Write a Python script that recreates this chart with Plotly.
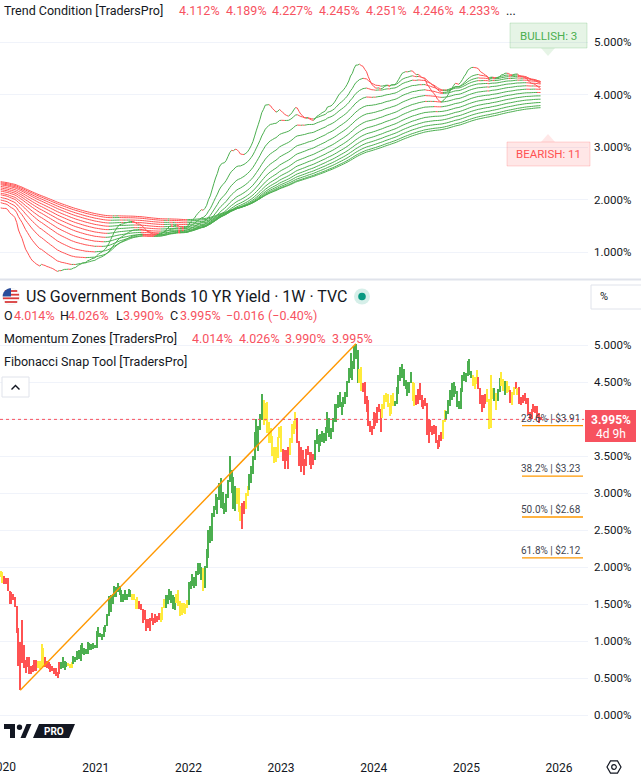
import math
import pandas as pd
import plotly.graph_objects as go

# ---------------- DATA ----------------
# Weekly bars of US 10Y yield, weeks starting Monday 2019-12-23
close_2019 = [1.88, 1.80]
high_2019 = [1.94, 1.93]
low_2019 = [1.87, 1.78]

close_2020 = [1.82, 1.83, 1.69, 1.51, 1.58, 1.59, 1.47, 1.15, 0.77, 0.96, 0.92, 0.68, 0.60,
              0.73, 0.65, 0.60, 0.64, 0.68, 0.64, 0.66, 0.65, 0.90, 0.70, 0.70, 0.64, 0.67,
              0.64, 0.63, 0.59, 0.54, 0.56, 0.71, 0.64, 0.72, 0.72, 0.67, 0.69, 0.66, 0.70,
              0.78, 0.74, 0.84, 0.87, 0.82, 0.89, 0.83, 0.84, 0.97, 0.90, 0.95, 0.94, 0.92]
high_2020 = [1.88, 1.85, 1.85, 1.68, 1.66, 1.64, 1.60, 1.47, 1.17, 0.99, 1.28, 0.94, 0.74,
             0.79, 0.78, 0.66, 0.68, 0.74, 0.74, 0.73, 0.73, 0.96, 0.91, 0.78, 0.73, 0.72,
             0.69, 0.66, 0.63, 0.63, 0.58, 0.72, 0.71, 0.79, 0.73, 0.72, 0.70, 0.69, 0.72,
             0.80, 0.79, 0.87, 0.88, 0.94, 0.97, 0.90, 0.89, 0.98, 0.97, 0.96, 0.97, 0.95]
low_2020 = [1.77, 1.77, 1.67, 1.50, 1.50, 1.55, 1.46, 1.11, 0.66, 0.336, 0.70, 0.64, 0.57,
            0.65, 0.56, 0.55, 0.58, 0.60, 0.60, 0.63, 0.62, 0.65, 0.65, 0.65, 0.63, 0.62,
            0.58, 0.59, 0.56, 0.53, 0.50, 0.55, 0.62, 0.63, 0.61, 0.65, 0.66, 0.63, 0.63,
            0.69, 0.71, 0.75, 0.76, 0.73, 0.82, 0.81, 0.82, 0.83, 0.88, 0.88, 0.89, 0.90]

close_2021 = [1.12, 1.09, 1.09, 1.07, 1.17, 1.20, 1.34, 1.41, 1.57, 1.63, 1.72, 1.67, 1.72,
              1.66, 1.58, 1.56, 1.63, 1.58, 1.63, 1.62, 1.59, 1.56, 1.45, 1.44, 1.52, 1.43,
              1.36, 1.30, 1.28, 1.22, 1.30, 1.28, 1.26, 1.31, 1.33, 1.34, 1.37, 1.46, 1.47,
              1.61, 1.57, 1.65, 1.56, 1.45, 1.57, 1.54, 1.48, 1.34, 1.48, 1.40, 1.49, 1.51]
high_2021 = [1.13, 1.19, 1.11, 1.10, 1.19, 1.21, 1.36, 1.61, 1.62, 1.64, 1.75, 1.73, 1.78,
             1.74, 1.69, 1.63, 1.69, 1.63, 1.70, 1.69, 1.63, 1.64, 1.57, 1.59, 1.54, 1.50,
             1.43, 1.42, 1.30, 1.30, 1.31, 1.38, 1.31, 1.37, 1.34, 1.38, 1.38, 1.46, 1.57,
             1.62, 1.62, 1.70, 1.68, 1.62, 1.60, 1.64, 1.69, 1.54, 1.52, 1.51, 1.50, 1.56]
low_2021 = [0.90, 1.06, 1.05, 1.01, 1.06, 1.12, 1.20, 1.34, 1.39, 1.50, 1.60, 1.60, 1.66,
            1.62, 1.53, 1.53, 1.55, 1.55, 1.59, 1.60, 1.55, 1.55, 1.43, 1.43, 1.43, 1.42,
            1.25, 1.28, 1.13, 1.17, 1.13, 1.27, 1.21, 1.25, 1.26, 1.28, 1.26, 1.29, 1.45,
            1.45, 1.50, 1.56, 1.52, 1.43, 1.42, 1.52, 1.47, 1.34, 1.35, 1.38, 1.37, 1.45]

close_2022 = [1.77, 1.79, 1.76, 1.78, 1.92, 1.93, 1.93, 1.97, 1.74, 2.00, 2.15, 2.48, 2.39,
              2.70, 2.83, 2.90, 2.89, 3.13, 2.93, 2.79, 2.74, 2.94, 3.16, 3.23, 3.13, 2.89,
              3.08, 2.93, 2.75, 2.65, 2.83, 2.84, 2.98, 3.04, 3.19, 3.31, 3.45, 3.69, 3.83,
              3.88, 4.01, 4.21, 4.01, 4.16, 3.82, 3.83, 3.68, 3.50, 3.58, 3.48, 3.75, 3.87]
high_2022 = [1.80, 1.81, 1.90, 1.87, 1.94, 2.06, 2.05, 2.00, 1.99, 2.01, 2.24, 2.50, 2.55,
             2.73, 2.83, 2.98, 2.94, 3.13, 3.20, 3.02, 2.87, 2.98, 3.18, 3.50, 3.31, 3.21,
             3.10, 3.07, 3.07, 2.83, 2.86, 2.89, 3.00, 3.10, 3.26, 3.36, 3.50, 3.83, 4.00,
             3.90, 4.07, 4.34, 4.26, 4.22, 4.23, 3.96, 3.88, 3.77, 3.62, 3.62, 3.76, 3.89]
low_2022 = [1.48, 1.70, 1.74, 1.72, 1.75, 1.89, 1.91, 1.82, 1.68, 1.71, 1.99, 2.12, 2.33,
            2.35, 2.67, 2.77, 2.72, 2.90, 2.80, 2.78, 2.71, 2.74, 2.93, 3.15, 3.00, 2.79,
            2.76, 2.85, 2.75, 2.62, 2.52, 2.72, 2.78, 2.96, 3.04, 3.14, 3.26, 3.44, 3.63,
            3.57, 3.85, 3.98, 3.92, 3.97, 3.81, 3.67, 3.67, 3.50, 3.40, 3.42, 3.47, 3.74]

close_2023 = [3.56, 3.50, 3.48, 3.51, 3.53, 3.73, 3.82, 3.95, 3.96, 3.70, 3.39, 3.38, 3.47,
              3.39, 3.52, 3.57, 3.44, 3.44, 3.46, 3.67, 3.80, 3.69, 3.74, 3.77, 3.74, 3.81,
              4.06, 3.82, 3.83, 3.95, 4.04, 4.16, 4.25, 4.24, 4.18, 4.26, 4.33, 4.44, 4.57,
              4.78, 4.63, 4.92, 4.84, 4.57, 4.65, 4.44, 4.47, 4.22, 4.23, 3.91, 3.90, 3.87]
high_2023 = [3.91, 3.60, 3.58, 3.58, 3.62, 3.75, 3.93, 3.97, 4.09, 4.02, 3.70, 3.62, 3.58,
             3.46, 3.60, 3.64, 3.55, 3.56, 3.53, 3.72, 3.86, 3.79, 3.80, 3.84, 3.81, 3.89,
             4.09, 4.02, 3.88, 4.02, 4.20, 4.20, 4.33, 4.37, 4.23, 4.30, 4.36, 4.51, 4.69,
             4.89, 4.78, 4.99, 5.016, 4.93, 4.68, 4.70, 4.48, 4.50, 4.31, 4.26, 3.97, 3.91]
low_2023 = [3.55, 3.43, 3.32, 3.43, 3.33, 3.52, 3.68, 3.80, 3.87, 3.67, 3.37, 3.29, 3.37,
            3.25, 3.37, 3.52, 3.38, 3.33, 3.38, 3.45, 3.66, 3.56, 3.64, 3.69, 3.67, 3.70,
            3.81, 3.76, 3.73, 3.83, 3.96, 3.96, 4.15, 4.16, 4.05, 4.16, 4.20, 4.30, 4.49,
            4.56, 4.53, 4.67, 4.81, 4.49, 4.49, 4.38, 4.37, 4.20, 4.10, 3.91, 3.83, 3.78]

close_2024 = [4.05, 3.94, 4.12, 4.14, 4.02, 4.18, 4.28, 4.25, 4.18, 4.08, 4.31, 4.21, 4.20,
              4.40, 4.52, 4.62, 4.67, 4.50, 4.50, 4.42, 4.47, 4.50, 4.43, 4.22, 4.26, 4.40,
              4.27, 4.18, 4.24, 4.19, 3.79, 3.94, 3.89, 3.80, 3.90, 3.71, 3.65, 3.75, 3.75,
              3.97, 4.10, 4.08, 4.24, 4.37, 4.31, 4.43, 4.41, 4.17, 4.15, 4.40, 4.52, 4.62, 4.60]
high_2024 = [4.10, 4.08, 4.16, 4.20, 4.14, 4.20, 4.33, 4.35, 4.34, 4.21, 4.33, 4.35, 4.25,
             4.43, 4.59, 4.70, 4.74, 4.68, 4.53, 4.50, 4.50, 4.63, 4.50, 4.48, 4.32, 4.40,
             4.49, 4.33, 4.26, 4.29, 4.21, 4.00, 3.99, 3.91, 3.92, 3.91, 3.72, 3.79, 3.82,
             3.99, 4.12, 4.11, 4.26, 4.39, 4.48, 4.50, 4.45, 4.38, 4.25, 4.42, 4.59, 4.64, 4.62]
low_2024 = [3.87, 3.90, 3.95, 4.09, 3.82, 4.02, 4.13, 4.23, 4.16, 4.04, 4.07, 4.18, 4.17,
            4.20, 4.34, 4.52, 4.55, 4.45, 4.41, 4.31, 4.35, 4.48, 4.25, 4.18, 4.19, 4.20,
            4.26, 4.16, 4.13, 4.17, 3.79, 3.67, 3.82, 3.78, 3.80, 3.68, 3.60, 3.62, 3.70,
            3.73, 3.96, 3.99, 4.07, 4.18, 4.26, 4.30, 4.34, 4.16, 4.13, 4.13, 4.37, 4.52, 4.50]

close_2025 = [4.77, 4.61, 4.62, 4.54, 4.49, 4.48, 4.42, 4.21, 4.31, 4.30, 4.25, 4.25, 4.00,
              4.49, 4.33, 4.25, 4.31, 4.38, 4.44, 4.51, 4.41, 4.51, 4.41, 4.38, 4.28, 4.35,
              4.42, 4.42, 4.39, 4.22, 4.28, 4.32, 4.26, 4.23, 4.08, 4.06, 4.13, 4.18, 4.12,
              4.05, 4.01, 3.995]
high_2025 = [4.79, 4.81, 4.65, 4.60, 4.57, 4.66, 4.57, 4.42, 4.33, 4.33, 4.34, 4.40, 4.27,
             4.59, 4.42, 4.42, 4.35, 4.41, 4.55, 4.63, 4.54, 4.52, 4.51, 4.45, 4.39, 4.36,
             4.43, 4.50, 4.42, 4.43, 4.30, 4.33, 4.35, 4.28, 4.29, 4.10, 4.14, 4.20, 4.18,
             4.17, 4.08, 4.026]
low_2025 = [4.58, 4.60, 4.56, 4.45, 4.40, 4.47, 4.40, 4.20, 4.10, 4.15, 4.20, 4.23, 3.86,
            3.88, 4.27, 4.24, 4.12, 4.25, 4.36, 4.44, 4.38, 4.33, 4.35, 4.36, 4.22, 4.19,
            4.32, 4.40, 4.32, 4.20, 4.19, 4.22, 4.24, 4.20, 4.06, 4.00, 4.00, 4.10, 4.08,
            4.02, 3.95, 3.990]

# Momentum zone colour of each bar, as runs (G = green, Y = yellow, R = red)
zone_runs = [("Y", 2),
             ("R", 19), ("Y", 4), ("R", 9), ("G", 4), ("Y", 3), ("G", 13),
             ("G", 20), ("Y", 4), ("R", 12), ("Y", 3), ("G", 6), ("Y", 7),
             ("G", 8), ("Y", 1), ("G", 18), ("Y", 3), ("R", 2), ("Y", 2), ("G", 8), ("Y", 10),
             ("Y", 1), ("R", 4), ("Y", 4), ("R", 10), ("G", 25), ("Y", 2), ("R", 6),
             ("R", 5), ("Y", 7), ("G", 10), ("Y", 2), ("R", 15), ("Y", 2), ("G", 12),
             ("G", 3), ("Y", 3), ("R", 5), ("Y", 4), ("G", 1), ("Y", 1), ("G", 2), ("Y", 2),
             ("G", 1), ("Y", 2), ("R", 1), ("Y", 2), ("R", 1), ("Y", 1), ("R", 13)]

# Trend Condition ribbon: EMA lengths and their values at the first bar
ribbon_periods = [10, 25, 40, 55, 70, 85, 100, 115, 130, 145, 160, 175, 190, 200]
ribbon_start = [1.84, 1.94, 1.99, 2.04, 2.09, 2.12, 2.16, 2.19, 2.22, 2.25, 2.28, 2.30, 2.32, 2.34]
trend_values = [4.112, 4.189, 4.227, 4.245, 4.251, 4.246, 4.233]
bullish_count, bearish_count = 3, 11

# Fibonacci snap tool anchors
fib_low_date, fib_low = "2020-03-09", 0.336
fib_high_date, fib_high = "2023-10-23", 5.016
fib_ratios = [0.236, 0.382, 0.5, 0.618]

# Last bar OHLC
last_open, last_high, last_low, last_close = 4.014, 4.026, 3.990, 3.995
last_change, last_change_pct = -0.016, -0.40

year_ticks = [2020, 2021, 2022, 2023, 2024, 2025, 2026]
top_ticks = [1, 2, 3, 4, 5]
bottom_ticks = [0, 0.5, 1, 1.5, 2, 2.5, 3, 3.5, 4, 4.5, 5]

# ---------------- assemble ----------------
close = close_2019 + close_2020 + close_2021 + close_2022 + close_2023 + close_2024 + close_2025
high = high_2019 + high_2020 + high_2021 + high_2022 + high_2023 + high_2024 + high_2025
low = low_2019 + low_2020 + low_2021 + low_2022 + low_2023 + low_2024 + low_2025
N = len(close)
zones = "".join(z * n for z, n in zone_runs)
zones = (zones + zones[-1] * N)[:N]
dates = list(pd.date_range("2019-12-23", periods=N, freq="7D").to_pydatetime())

FONT = "Roboto, sans-serif"
DARK = "#131722"
RED_T = "#f7525f"
GREEN = "#4caf50"
RED = "#ff5252"
YELLOW = "#ffeb3b"
ORANGE = "#ff9800"

W, H = 641, 777
LM, RM, TM, BM = 0, 53, 0, 25
PW, PH = W - LM - RM, H - TM - BM


def fx(px):
    return (px - LM) / PW


def fy(py):
    return 1 - (py - TM) / PH


fig = go.Figure()

# ---- bottom pane: bars ----
cmap = {"G": GREEN, "Y": YELLOW, "R": RED}
fig.add_trace(go.Bar(
    x=dates, base=low, y=[h - l for h, l in zip(high, low)],
    marker=dict(color=[cmap[z] for z in zones], line=dict(width=0)),
    width=4.2 * 86400000, xaxis="x", yaxis="y", hoverinfo="skip"))

# fib diagonal
fig.add_trace(go.Scatter(x=[fib_low_date, fib_high_date], y=[fib_low, fib_high],
                         mode="lines", line=dict(color=ORANGE, width=1.4),
                         xaxis="x", yaxis="y", hoverinfo="skip"))

# ---- top pane: EMA ribbon ----
gx, gy, rx, ry = [], [], [], []
for k, p in enumerate(ribbon_periods):
    a = 2.0 / (p + 1)
    e = [ribbon_start[k]]
    for c in close[1:]:
        e.append(e[-1] + a * (c - e[-1]))
    for i in range(N - 1):
        if e[i + 1] >= e[i]:
            gx += [dates[i], dates[i + 1], None]
            gy += [e[i], e[i + 1], None]
        else:
            rx += [dates[i], dates[i + 1], None]
            ry += [e[i], e[i + 1], None]
fig.add_trace(go.Scatter(x=gx, y=gy, mode="lines", line=dict(color=GREEN, width=1),
                         xaxis="x2", yaxis="y2", hoverinfo="skip"))
fig.add_trace(go.Scatter(x=rx, y=ry, mode="lines", line=dict(color=RED, width=1),
                         xaxis="x2", yaxis="y2", hoverinfo="skip"))

xr = ["2019-12-20 05:00", "2026-04-25"]
axis_font = dict(size=11.5, color=DARK, family=FONT)
fig.update_layout(
    width=W, height=H, margin=dict(l=LM, r=RM, t=TM, b=BM, autoexpand=False),
    paper_bgcolor="white", plot_bgcolor="white", showlegend=False, bargap=0,
    xaxis=dict(domain=[0, 1], anchor="y", type="date", range=xr,
               tickvals=[f"{y}-01-01" for y in year_ticks[1:]],
               ticktext=[str(y) for y in year_ticks[1:]],
               showgrid=False, zeroline=False, showline=False, ticks="",
               tickfont=dict(size=12, color=DARK, family=FONT), ticklabelstandoff=7),
    xaxis2=dict(domain=[0, 1], anchor="y2", type="date", range=xr, matches="x",
                showticklabels=False, showgrid=False, zeroline=False, showline=False, ticks=""),
    yaxis=dict(domain=[0, fy(281)], range=[-0.5, 5.865], side="right",
               tickvals=bottom_ticks,
               ticktext=["" if v == 4 else f"{v:.3f}%" for v in bottom_ticks],
               gridcolor="#f0f3fa", zeroline=False, showline=False, ticks="",
               tickfont=axis_font, ticklabelstandoff=5),
    yaxis2=dict(domain=[fy(278), 1], range=[0.5048, 5.8], side="right",
                tickvals=top_ticks, ticktext=[f"{v:.3f}%" for v in top_ticks],
                gridcolor="#f0f3fa", zeroline=False, showline=False, ticks="",
                tickfont=axis_font, ticklabelstandoff=5),
)

shapes = []


def rect(x0, y0, x1, y1, fill, line=None, lw=1):
    shapes.append(dict(type="rect", xref="paper", yref="paper", x0=fx(x0), x1=fx(x1),
                       y0=fy(y1), y1=fy(y0), fillcolor=fill,
                       line=dict(color=line or fill, width=lw if line else 0), layer="above"))


def poly(pts, fill, line=None, lw=1, closed=True):
    d = "M " + " L ".join(f"{fx(x):.5f},{fy(y):.5f}" for x, y in pts) + (" Z" if closed else "")
    shapes.append(dict(type="path", xref="paper", yref="paper", path=d,
                       fillcolor=fill if closed else None,
                       line=dict(color=line or fill, width=lw if line else 0), layer="above"))


def circle(cx, cy, r, fill, line=None, lw=1):
    shapes.append(dict(type="circle", xref="paper", yref="paper", x0=fx(cx - r), x1=fx(cx + r),
                       y0=fy(cy + r), y1=fy(cy - r), fillcolor=fill,
                       line=dict(color=line or fill, width=lw if line else 0), layer="above"))


def note(x, y, text, size=12.5, color=DARK, anchor="left", bold=False):
    if bold:
        text = f"<b>{text}</b>"
    fig.add_annotation(x=fx(x), y=fy(y), xref="paper", yref="paper", text=text,
                       showarrow=False, xanchor=anchor, yanchor="middle",
                       font=dict(size=size, color=color, family=FONT))


# first year label (sits at the left edge, partly clipped as in the original)
fig.add_annotation(x=f"{year_ticks[0]}-01-01", y=fy(767), xref="x", yref="paper",
                   text=str(year_ticks[0]), showarrow=False, xanchor="center", yanchor="middle",
                   font=dict(size=12, color=DARK, family=FONT))

# pane separator
shapes.append(dict(type="line", xref="paper", yref="paper", x0=fx(0), x1=fx(W), y0=fy(279.5),
                   y1=fy(279.5), line=dict(color="#e0e3eb", width=2), layer="above"))

# dotted last-price line
shapes.append(dict(type="line", xref="paper", yref="y", x0=0, x1=fx(584), y0=last_close,
                   y1=last_close, line=dict(color=RED_T, width=1, dash="dot"), layer="above"))

# fib levels
for r in fib_ratios:
    lvl = fib_high - r * (fib_high - fib_low)
    shapes.append(dict(type="line", xref="paper", yref="y", x0=fx(522), x1=fx(583), y0=lvl,
                       y1=lvl, line=dict(color=ORANGE, width=1.3), layer="above"))
    fig.add_annotation(x=fx(519), y=lvl, xref="paper", yref="y", yanchor="bottom", xanchor="left",
                       text=f"{r * 100:.1f}% | ${lvl:.2f}", showarrow=False, yshift=0,
                       font=dict(size=10, color="#434651", family=FONT))

# price label
rect(585, 410, 636, 442, RED_T)
note(610.5, 420, f"{last_close:.3f}%", size=12, color="white", anchor="center", bold=True)
note(610.5, 434, "4d 9h", size=12, color="white", anchor="center")

# top pane header
note(2, 10, "Trend Condition [TradersPro]", size=12.5)
for k, v in enumerate(trend_values):
    note(177 + 46.7 * k, 10, f"{v:.3f}%", size=12.5, color=RED_T)
note(504, 10, "...", size=12.5)

# bullish / bearish labels
rect(510, 23, 587, 48, "rgba(76,175,80,0.14)", "rgba(76,175,80,0.22)")
poly([(541, 48), (555, 48), (548, 56)], "rgba(76,175,80,0.14)")
note(548.5, 35.5, f"BULLISH: {bullish_count}", size=11.5, color=GREEN, anchor="center")
rect(507, 142, 590, 166, "rgba(255,82,82,0.14)", "rgba(255,82,82,0.22)")
poly([(541, 142), (555, 142), (548, 134)], "rgba(255,82,82,0.14)")
note(548.5, 154, f"BEARISH: {bearish_count}", size=11.5, color=RED, anchor="center")

# flag icon
fcx, fcy, fr = 11, 296.5, 8.3
circle(fcx, fcy, fr, "white", "#e8e8e8", 0.5)
for dy in (-5.5, -1.8, 1.8, 5.5):
    hw = math.sqrt(max(fr * fr - dy * dy, 0))
    rect(fcx - hw, fcy + dy - 0.9, fcx + hw, fcy + dy + 0.9, "#d93b3b")
arc = [(fcx, fcy)] + [(fcx + fr * math.cos(math.radians(a)), fcy - fr * math.sin(math.radians(a)))
                      for a in range(90, 181, 10)]
poly(arc, "#2a4d9b")

# title rows
note(24, 297, "US Government Bonds 10 YR Yield · 1W · TVC", size=16)
circle(362, 296.5, 8, "#d6efe9")
circle(362, 296.5, 3.8, "#089981")

row3 = [("O", 2, DARK), (f"{last_open:.3f}%", 11.5, RED_T), ("H", 58, DARK),
        (f"{last_high:.3f}%", 66, RED_T), ("L", 114, DARK), (f"{last_low:.3f}%", 121, RED_T),
        ("C", 168, DARK), (f"{last_close:.3f}%", 178, RED_T),
        (f"−{abs(last_change):.3f}", 224, RED_T), (f"(−{abs(last_change_pct):.2f}%)", 266, RED_T)]
for t, x, c in row3:
    note(x, 315.5, t, size=12.5, color=c)

note(2, 338.5, "Momentum Zones [TradersPro]", size=12.5)
for k, v in enumerate([last_open, last_high, last_low, last_close]):
    note(190 + 46.7 * k, 338.5, f"{v:.3f}%", size=12.5, color=RED_T)
note(2, 361.5, "Fibonacci Snap Tool [TradersPro]", size=12.5)

# collapse button
shapes.append(dict(type="rect", xref="paper", yref="paper", x0=fx(2), x1=fx(29), y0=fy(397),
                   y1=fy(377), line=dict(color="#e0e3eb", width=1), fillcolor="white", layer="above"))
poly([(11.5, 389.5), (15.5, 385.5), (19.5, 389.5)], None, DARK, 1.4, closed=False)

# % box
shapes.append(dict(type="rect", xref="paper", yref="paper", x0=fx(591), x1=fx(645), y0=fy(309),
                   y1=fy(285), line=dict(color="#e0e3eb", width=1), fillcolor="white", layer="above"))
note(598, 297, "%", size=11, color=DARK)

# TradingView logo
rect(4, 724, 15, 729, "#131722")
rect(10, 724, 15, 738, "#131722")
circle(19.5, 727.2, 2.7, "#131722")
poly([(20.5, 738), (26.5, 724), (31.5, 724), (25.5, 738)], "#131722")
poly([(33, 738), (39, 724), (75, 724), (69, 738)], "#131722")
note(54, 731.5, "PRO", size=10, color="white", anchor="center", bold=True)

# settings icon
gcx, gcy, gr = 614, 767, 7
hexpts = [(gcx + gr * math.cos(math.radians(a)), gcy - gr * math.sin(math.radians(a)))
          for a in range(0, 360, 60)]
poly(hexpts, "rgba(0,0,0,0)", DARK, 1.2)
circle(gcx, gcy, 2.3, "rgba(0,0,0,0)", DARK, 1.2)

fig.update_layout(shapes=shapes)
fig.write_html("out.html", config={"displayModeBar": False},
               post_script="document.body.style.margin='0';document.body.style.overflow='hidden';")
